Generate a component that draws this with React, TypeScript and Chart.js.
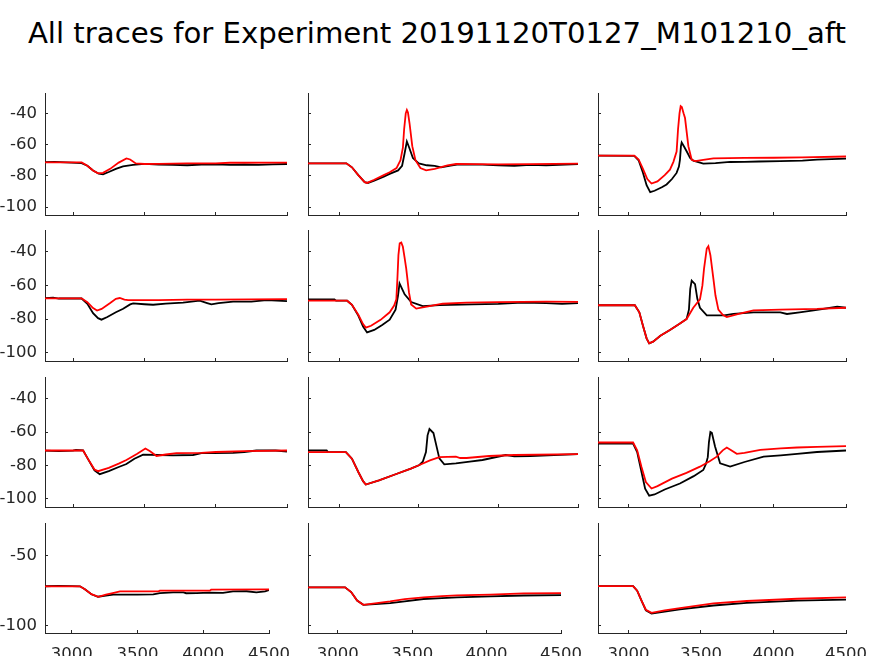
import React, { useEffect, useRef } from "react";
import { Chart, registerables } from "chart.js";

Chart.register(...registerables);

type Pt = [number, number];

const TITLE = "All traces for Experiment 20191120T0127_M101210_aft";
const X_TICKS = [3000, 3500, 4000, 4500];
const Y_TICKS_MAIN = [-100, -80, -60, -40];
const Y_TICKS_BOTTOM = [-100, -50];
const Y_MIN = -105;
const Y_MAX = -27;
const X_MAX = 4500;

// Row 1
const r1c1Black: Pt[] = [[2780,-71.3],[2870,-71],[2950,-71.3],[3060,-71.8],[3100,-73.5],[3140,-76.5],[3180,-78.6],[3210,-79],[3250,-77.5],[3300,-75.5],[3350,-73.9],[3420,-73],[3500,-72.3],[3600,-72.8],[3700,-73],[3800,-73.2],[3900,-72.8],[4000,-72.6],[4100,-72.9],[4200,-72.7],[4300,-73],[4400,-72.6],[4500,-72.4]];
const r1c1Red: Pt[] = [[2780,-71.4],[3060,-71.4],[3100,-73.5],[3140,-76.5],[3175,-78.4],[3210,-78],[3260,-75.5],[3320,-71.5],[3374,-68.8],[3400,-69.5],[3440,-72],[3500,-72.4],[3600,-72.3],[3800,-72],[4000,-72],[4100,-71.6],[4500,-71.5]];
const r1c2Black: Pt[] = [[2780,-72],[3045,-72],[3080,-74.5],[3120,-79.5],[3160,-84],[3180,-84.5],[3220,-83],[3280,-80.5],[3317,-78.7],[3370,-76.5],[3395,-73.5],[3410,-66],[3425,-58],[3440,-62],[3463,-68.6],[3500,-72],[3550,-73.2],[3600,-73.6],[3640,-74.5],[3700,-73.5],[3750,-72.6],[3900,-72.8],[4000,-73.3],[4100,-73.5],[4200,-73],[4300,-73.2],[4500,-72.5]];
const r1c2Red: Pt[] = [[2780,-72],[3045,-72],[3080,-74.5],[3120,-79.5],[3160,-84],[3175,-84.5],[3220,-82.5],[3280,-79.5],[3317,-77.7],[3360,-75],[3385,-70],[3400,-62],[3408,-50],[3418,-40],[3425,-37.9],[3432,-39.5],[3442,-46.5],[3459,-61],[3479,-70],[3510,-75],[3546,-76.4],[3600,-75.5],[3680,-73.2],[3734,-72.4],[3850,-72.5],[4000,-72.6],[4200,-72.5],[4500,-72.2]];
const r1c3Black: Pt[] = [[2780,-67],[3040,-67.2],[3070,-70],[3100,-78],[3125,-86],[3150,-90.4],[3180,-89.5],[3230,-87.3],[3263,-85.5],[3300,-82],[3332,-78.1],[3348,-74],[3355,-69.7],[3362,-61],[3367,-58.7],[3385,-61.5],[3402,-64.4],[3425,-68.5],[3447,-70.3],[3516,-72.2],[3600,-71.8],[3701,-71.1],[3800,-71],[3900,-70.8],[4047,-70.5],[4200,-70.2],[4300,-69.6],[4500,-69]];
const r1c3Red: Pt[] = [[2780,-67],[3040,-67],[3070,-69.5],[3100,-75.5],[3130,-82],[3159,-84.9],[3200,-83.5],[3250,-79.5],[3286,-76],[3310,-71],[3332,-64.4],[3342,-50],[3352,-40],[3360,-35.4],[3368,-36],[3380,-40],[3390,-43],[3413,-61],[3436,-69.7],[3460,-70.5],[3516,-69.7],[3586,-68.8],[3800,-68.5],[4000,-68.4],[4200,-68.2],[4500,-67.6]];

// Row 2
const r2c1Black: Pt[] = [[2780,-67.7],[2860,-67.3],[2900,-67.8],[3060,-67.8],[3100,-71],[3140,-76.5],[3175,-79.5],[3199,-80.4],[3240,-78.8],[3300,-76],[3351,-73.9],[3400,-71.3],[3421,-70.7],[3500,-71.2],[3561,-71.5],[3650,-70.8],[3771,-70.3],[3888,-69.1],[3940,-70.5],[3970,-71.3],[4020,-70.5],[4122,-69.7],[4250,-69.6],[4357,-68.7],[4500,-69.3]];
const r2c1Red: Pt[] = [[2780,-67.7],[3059,-67.7],[3100,-70],[3140,-73.5],[3168,-75],[3200,-74],[3260,-70.5],[3300,-68],[3327,-67.5],[3360,-68.5],[3386,-68.7],[3600,-68.7],[3800,-68.5],[4000,-68.4],[4500,-68.1]];
const r2c2Black: Pt[] = [[2780,-68.3],[2970,-68.3],[2980,-69.1],[3050,-69.1],[3080,-71.5],[3120,-78],[3150,-84.5],[3175,-88],[3220,-86.5],[3270,-83.5],[3317,-80.4],[3354,-74.4],[3369,-66.3],[3379,-58.8],[3395,-62],[3411,-65.3],[3452,-69.9],[3525,-72.3],[3630,-71.7],[3837,-71.3],[4000,-71],[4150,-70.3],[4300,-70.5],[4400,-71],[4500,-70.5]];
const r2c2Red: Pt[] = [[2780,-69.1],[3050,-69.1],[3080,-71.5],[3120,-77.5],[3150,-83],[3167,-85.1],[3200,-84],[3260,-80.5],[3317,-76],[3345,-72],[3359,-68.3],[3366,-55],[3372,-42],[3380,-35],[3390,-34.5],[3400,-37],[3410,-43],[3421,-50],[3438,-64],[3452,-71.3],[3484,-73.8],[3567,-72.3],[3650,-70.9],[3800,-70.2],[4000,-70],[4300,-69.7],[4500,-69.8]];
const r2c3Black: Pt[] = [[2780,-71.8],[3044,-71.8],[3075,-76],[3100,-84],[3125,-91.5],[3143,-94.5],[3170,-93.5],[3220,-90],[3286,-86.5],[3350,-83],[3401,-80],[3417,-74.4],[3426,-62],[3436,-57.2],[3459,-59.2],[3475,-68],[3493,-73.3],[3540,-77.8],[3660,-77.8],[3724,-77],[3862,-76],[4047,-76],[4093,-77],[4180,-76],[4277,-74.8],[4439,-72.7],[4500,-73.3]];
const r2c3Red: Pt[] = [[2780,-71.8],[3044,-71.8],[3075,-76],[3100,-84],[3125,-91.5],[3143,-94.5],[3170,-93.5],[3220,-90],[3286,-86.5],[3350,-83],[3401,-80],[3447,-73.3],[3493,-68.3],[3510,-60],[3521,-50.1],[3540,-38],[3551,-36.6],[3565,-42],[3586,-56.2],[3600,-66],[3620,-74.4],[3650,-77.5],[3678,-78.8],[3760,-77],[3862,-74.8],[4047,-74.4],[4300,-74],[4500,-73.3]];

// Row 3
const r3c1Black: Pt[] = [[2780,-71.1],[2900,-71.5],[3000,-71.2],[3020,-70.8],[3070,-71],[3110,-77],[3150,-83],[3187,-85.3],[3250,-83.5],[3320,-81],[3374,-79.2],[3430,-76],[3491,-73.6],[3600,-73.8],[3701,-74],[3841,-73.8],[3900,-72.7],[3981,-72.7],[4122,-72.5],[4200,-72],[4286,-71.1],[4420,-71.1],[4500,-71.7]];
const r3c1Red: Pt[] = [[2780,-71.1],[3070,-71.1],[3110,-77],[3150,-82.5],[3175,-83.5],[3250,-81.5],[3320,-79],[3374,-76.8],[3450,-73],[3507,-69.9],[3540,-71.5],[3585,-74.4],[3650,-73.5],[3725,-72.7],[3900,-72.5],[4000,-72],[4200,-71.5],[4500,-71.1]];
const r3c2Black: Pt[] = [[2780,-71.1],[2921,-71.1],[2930,-72.1],[3042,-72.1],[3080,-76],[3120,-84],[3150,-89.5],[3167,-91.5],[3250,-89],[3350,-85.5],[3450,-82],[3504,-79.8],[3525,-77.8],[3545,-72],[3555,-62],[3567,-58.2],[3592,-60.6],[3610,-68],[3629,-75.8],[3660,-79.4],[3733,-78.8],[3820,-77.8],[3900,-76.8],[4046,-73.8],[4100,-74.6],[4200,-74.4],[4500,-73.3]];
const r3c2Red: Pt[] = [[2780,-72.1],[3042,-72.1],[3080,-76],[3120,-84],[3150,-89.5],[3167,-91.5],[3250,-89],[3350,-85.5],[3450,-82],[3504,-79.8],[3570,-77],[3629,-75.1],[3733,-74.8],[3760,-75.6],[3800,-75.6],[3942,-74.4],[4100,-73.8],[4500,-73.3]];
const r3c3Black: Pt[] = [[2780,-66.9],[3032,-66.9],[3060,-72],[3090,-84],[3115,-94],[3143,-98.2],[3180,-97.5],[3250,-94.5],[3355,-90.9],[3450,-86.5],[3516,-82.8],[3535,-79],[3547,-75.1],[3555,-66],[3565,-60],[3575,-60.5],[3597,-68.7],[3632,-78.8],[3701,-80.8],[3800,-78],[3932,-74.8],[4050,-74],[4163,-73.1],[4300,-72],[4500,-71.1]];
const r3c3Red: Pt[] = [[2780,-66.3],[3032,-66.3],[3060,-71],[3090,-81],[3120,-90],[3159,-93.9],[3200,-92.5],[3300,-88],[3400,-84.5],[3493,-80.8],[3560,-77.5],[3609,-74.8],[3650,-71],[3678,-69.3],[3700,-70.5],[3747,-73.1],[3800,-72.5],[3909,-70.7],[4050,-69.8],[4163,-69.3],[4300,-68.9],[4500,-68.5]];

// Row 4
const r4c1Black: Pt[] = [[2780,-71.9],[2900,-71.6],[3000,-71.8],[3063,-71.9],[3100,-74],[3150,-77.5],[3200,-79.3],[3260,-78.5],[3316,-77.8],[3500,-77.8],[3620,-77.6],[3670,-76.7],[3771,-76.2],[3850,-76.2],[3870,-76.8],[3950,-76.7],[4050,-76.4],[4150,-76.5],[4226,-75.5],[4330,-75.4],[4404,-76.2],[4470,-75.5],[4500,-74.5]];
const r4c1Red: Pt[] = [[2780,-71.9],[3063,-71.9],[3100,-74],[3150,-77.5],[3202,-79.3],[3260,-77.8],[3320,-76.5],[3367,-75.5],[3660,-75.5],[3670,-75],[4050,-75],[4060,-74.3],[4500,-74.1]];
const r4c2Black: Pt[] = [[2780,-72.6],[3049,-72.6],[3090,-76],[3130,-82],[3172,-85],[3250,-84.5],[3352,-83.8],[3450,-82.5],[3576,-80.9],[3700,-80.2],[3801,-79.8],[4025,-79],[4249,-78.4],[4500,-78.1]];
const r4c2Red: Pt[] = [[2780,-72.6],[3049,-72.6],[3090,-76],[3130,-82],[3172,-85],[3250,-84],[3352,-82.6],[3450,-81],[3576,-79.8],[3700,-78.8],[3801,-78.3],[4025,-77.8],[4249,-76.9],[4500,-76.7]];
const r4c3Black: Pt[] = [[2780,-71.7],[3032,-71.7],[3060,-75],[3090,-82],[3120,-89],[3159,-91.2],[3250,-89.8],[3355,-88.3],[3586,-85.5],[3816,-83.6],[4163,-82.1],[4500,-81.4]];
const r4c3Red: Pt[] = [[2780,-71.7],[3032,-71.7],[3060,-75],[3090,-82],[3120,-88.5],[3159,-90.7],[3250,-89],[3355,-87.4],[3586,-84],[3816,-82.3],[4163,-80.7],[4500,-79.8]];

const AXIS_COLOR = "#262626";
const FONT_FAMILY = "'DejaVu Sans', sans-serif";
const TICK_FONT_SIZE = 16.5;

interface Panel {
  black: Pt[];
  red: Pt[];
  left: number;
  right: number;
  top: number;
  bottom: number;
  xMin: number;
  yTicks: number[];
  showX: boolean;
  showY: boolean;
}

const ROWS: [number, number][] = [[93, 215], [230, 361], [377, 507], [523, 633]];
const COLS_TOP: [number, number][] = [[45, 287], [308, 578], [598, 846]];
const COLS_BOTTOM: [number, number][] = [[45, 269], [308, 561], [598, 846]];
const XMIN_TOP = [2803, 2804, 2790];
const XMIN_BOTTOM = [2797, 2800, 2790];

const SERIES: [Pt[], Pt[]][][] = [
  [[r1c1Black, r1c1Red], [r1c2Black, r1c2Red], [r1c3Black, r1c3Red]],
  [[r2c1Black, r2c1Red], [r2c2Black, r2c2Red], [r2c3Black, r2c3Red]],
  [[r3c1Black, r3c1Red], [r3c2Black, r3c2Red], [r3c3Black, r3c3Red]],
  [[r4c1Black, r4c1Red], [r4c2Black, r4c2Red], [r4c3Black, r4c3Red]],
];

const panels: Panel[] = [];
SERIES.forEach((row, ri) => {
  row.forEach(([black, red], ci) => {
    const last = ri === 3;
    const cols = last ? COLS_BOTTOM : COLS_TOP;
    panels.push({
      black,
      red,
      left: cols[ci][0],
      right: cols[ci][1],
      top: ROWS[ri][0],
      bottom: ROWS[ri][1],
      xMin: last ? XMIN_BOTTOM[ci] : XMIN_TOP[ci],
      yTicks: last ? Y_TICKS_BOTTOM : Y_TICKS_MAIN,
      showX: last,
      showY: ci === 0,
    });
  });
});

const PAD_L = 60;
const PAD_R = 40;
const PAD_T = 12;
const PAD_B = 34;

function PanelChart({ p }: { p: Panel }) {
  const ref = useRef<HTMLCanvasElement>(null);
  const w = p.right - p.left + PAD_L + PAD_R;
  const h = p.bottom - p.top + PAD_T + PAD_B;

  useEffect(() => {
    const canvas = ref.current;
    if (!canvas) return;
    const chart = new Chart(canvas, {
      type: "line",
      data: {
        datasets: [
          {
            data: p.red.map(([x, y]) => ({ x, y })),
            borderColor: "#ff0000",
            borderWidth: 1.8,
            pointRadius: 0,
            tension: 0,
            fill: false,
          },
          {
            data: p.black.map(([x, y]) => ({ x, y })),
            borderColor: "#000000",
            borderWidth: 1.8,
            pointRadius: 0,
            tension: 0,
            fill: false,
          },
        ],
      },
      options: {
        responsive: false,
        animation: false,
        devicePixelRatio: 1,
        layout: { padding: { left: 0, right: PAD_R, top: PAD_T, bottom: 0 } },
        plugins: {
          legend: { display: false },
          tooltip: { enabled: false },
          title: { display: false },
        },
        scales: {
          x: {
            type: "linear",
            position: "bottom",
            min: p.xMin,
            max: X_MAX,
            afterBuildTicks: (s: any) => {
              s.ticks = X_TICKS.map((v) => ({ value: v }));
            },
            afterFit: (s: any) => {
              s.height = PAD_B;
              s.paddingLeft = 0;
              s.paddingRight = 0;
              s.paddingTop = 0;
              s.paddingBottom = 0;
            },
            grid: {
              display: true,
              drawOnChartArea: false,
              drawTicks: true,
              tickLength: -3,
              color: AXIS_COLOR,
              lineWidth: 1,
            },
            border: { display: true, color: AXIS_COLOR, width: 1 },
            ticks: {
              display: p.showX,
              color: AXIS_COLOR,
              font: { family: FONT_FAMILY, size: TICK_FONT_SIZE },
              padding: 15,
              maxRotation: 0,
              minRotation: 0,
              autoSkip: false,
              callback: (v: any) => String(v),
            },
          },
          y: {
            type: "linear",
            position: "left",
            min: Y_MIN,
            max: Y_MAX,
            afterBuildTicks: (s: any) => {
              s.ticks = p.yTicks.map((v) => ({ value: v }));
            },
            afterFit: (s: any) => {
              s.width = PAD_L;
              s.paddingLeft = 0;
              s.paddingRight = 0;
              s.paddingTop = 0;
              s.paddingBottom = 0;
            },
            grid: {
              display: true,
              drawOnChartArea: false,
              drawTicks: true,
              tickLength: -3,
              color: AXIS_COLOR,
              lineWidth: 1,
            },
            border: { display: true, color: AXIS_COLOR, width: 1 },
            ticks: {
              display: p.showY,
              color: AXIS_COLOR,
              font: { family: FONT_FAMILY, size: TICK_FONT_SIZE },
              padding: 11,
              autoSkip: false,
              callback: (v: any) => String(v),
            },
          },
        },
      },
    } as any);
    return () => chart.destroy();
  }, []);

  return (
    <canvas
      ref={ref}
      width={w}
      height={h}
      style={{
        position: "absolute",
        left: p.left - PAD_L,
        top: p.top - PAD_T,
        width: w,
        height: h,
      }}
    />
  );
}

export default function App() {
  return (
    <div
      style={{
        position: "absolute",
        left: 0,
        top: 0,
        width: 874,
        height: 656,
        overflow: "hidden",
        background: "#ffffff",
      }}
    >
      <div
        style={{
          position: "absolute",
          left: 0,
          width: 874,
          top: 16,
          textAlign: "center",
          fontFamily: FONT_FAMILY,
          fontSize: 29.2,
          color: "#000000",
          whiteSpace: "nowrap",
        }}
      >
        {TITLE}
      </div>
      {panels.map((p, i) => (
        <PanelChart key={i} p={p} />
      ))}
    </div>
  );
}
